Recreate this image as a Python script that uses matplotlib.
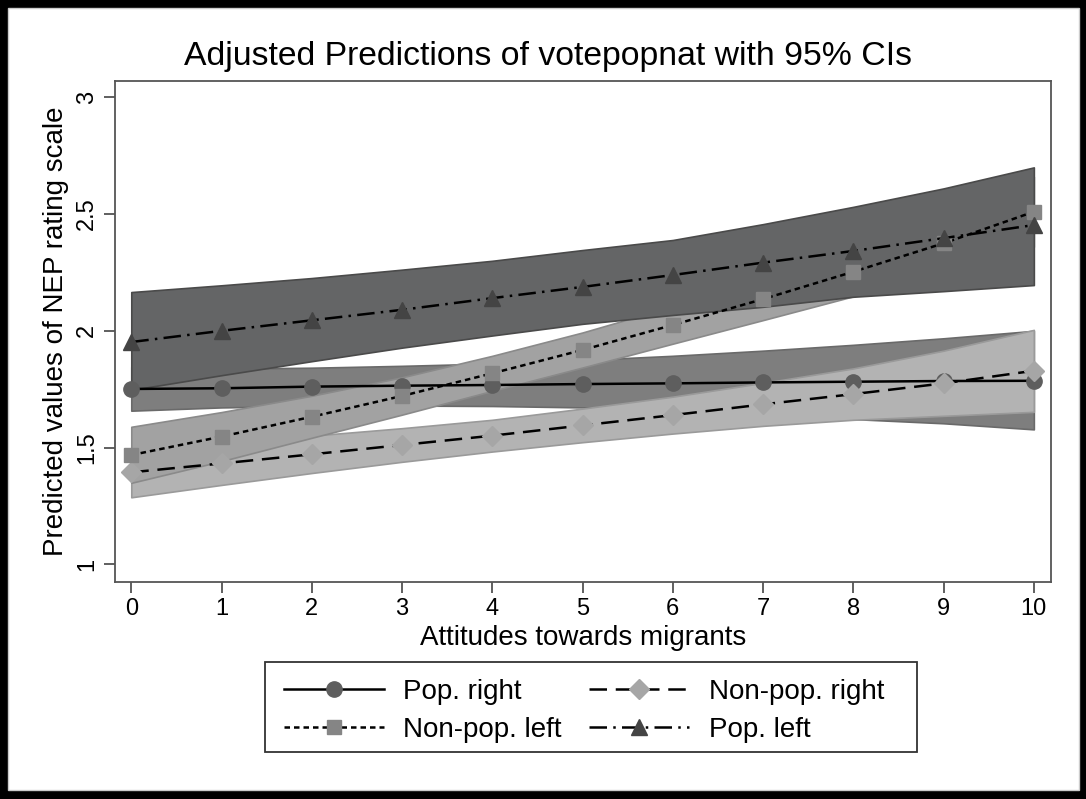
import matplotlib
matplotlib.use("Agg")
import matplotlib.pyplot as plt
from matplotlib.patches import Rectangle
import numpy as np

plt.rcParams['font.family'] = ['Liberation Sans', 'DejaVu Sans']

x = list(range(11))
xticks = list(range(11))
yticks = [1, 1.5, 2, 2.5, 3]
ytick_labels = ["1", "1.5", "2", "2.5", "3"]

# Pop. right
pop_right = [1.751, 1.754, 1.761, 1.765, 1.768, 1.772, 1.775, 1.779, 1.782, 1.785, 1.786]
pop_right_lo = [1.658, 1.672, 1.678, 1.680, 1.678, 1.672, 1.663, 1.648, 1.622, 1.604, 1.578]
pop_right_hi = [1.845, 1.838, 1.842, 1.850, 1.860, 1.875, 1.893, 1.915, 1.940, 1.968, 2.000]
# Non-pop. right
nonpop_right = [1.394, 1.432, 1.471, 1.511, 1.551, 1.595, 1.639, 1.685, 1.729, 1.775, 1.829]
nonpop_right_lo = [1.287, 1.340, 1.391, 1.439, 1.483, 1.523, 1.560, 1.593, 1.619, 1.636, 1.653]
nonpop_right_hi = [1.501, 1.524, 1.551, 1.583, 1.619, 1.667, 1.718, 1.777, 1.839, 1.915, 2.004]
# Non-pop. left
nonpop_left = [1.468, 1.547, 1.632, 1.721, 1.818, 1.918, 2.025, 2.136, 2.253, 2.375, 2.510]
nonpop_left_lo = [1.349, 1.442, 1.542, 1.641, 1.743, 1.843, 1.945, 2.046, 2.148, 2.250, 2.360]
nonpop_left_hi = [1.589, 1.652, 1.722, 1.801, 1.893, 1.993, 2.105, 2.226, 2.358, 2.500, 2.660]
# Pop. left
pop_left = [1.952, 2.000, 2.045, 2.090, 2.140, 2.188, 2.239, 2.292, 2.342, 2.397, 2.453]
pop_left_lo = [1.747, 1.810, 1.870, 1.928, 1.980, 2.030, 2.068, 2.103, 2.146, 2.170, 2.196]
pop_left_hi = [2.166, 2.195, 2.226, 2.262, 2.300, 2.346, 2.389, 2.457, 2.531, 2.610, 2.700]

series = [
    ("Pop. right", pop_right, pop_right_lo, pop_right_hi),
    ("Non-pop. right", nonpop_right, nonpop_right_lo, nonpop_right_hi),
    ("Non-pop. left", nonpop_left, nonpop_left_lo, nonpop_left_hi),
    ("Pop. left", pop_left, pop_left_lo, pop_left_hi),
]

band_face = ["#7e7e7e", "#b3b3b3", "#a2a2a2", "#646566"]
band_edge = ["#6a6a6a", "#9a9a9a", "#8a8a8a", "#4a4a4a"]
mark_col = ["#5e5e5e", "#a6a6a6", "#858585", "#444444"]
markers = ["o", "D", "s", "^"]
msizes = [11, 10, 10, 11]
dashes = [None, (7, 3.5), (2.2, 1.6), (7, 2.5, 1, 2.5)]

W, H = 1086, 799
fig = plt.figure(figsize=(W / 100, H / 100), dpi=100)
fig.patch.set_facecolor("black")
bg = Rectangle((8 / W, 1 - 790 / H), (1079 - 8) / W, (790 - 8) / H,
               transform=fig.transFigure, facecolor="white",
               edgecolor="#cccccc", linewidth=1, zorder=-10)
fig.patches.append(bg)

ax = fig.add_axes([114.5 / W, 1 - 581.7 / H, (1051 - 114.5) / W, (581.7 - 81) / H])
ax.set_zorder(1)
ax.set_facecolor("white")

for i, (name, c, lo, hi) in enumerate(series):
    ax.fill_between(x, lo, hi, facecolor=band_face[i], edgecolor=band_edge[i],
                    linewidth=1.2, zorder=1 + i)

handles = []
for i, (name, c, lo, hi) in enumerate(series):
    ln, = ax.plot(x, c, color="black", linewidth=1.8, marker=markers[i],
                  markersize=msizes[i], markerfacecolor=mark_col[i],
                  markeredgecolor=mark_col[i], zorder=10 + i, label=name)
    if dashes[i] is not None:
        ln.set_dashes(dashes[i])
    handles.append(ln)

ax.set_xlim(-0.186, 10.19)
ax.set_ylim(0.9255, 3.07)
ax.set_xticks(xticks)
ax.set_yticks(yticks)
ax.set_yticklabels(ytick_labels, rotation=90, va="center")
ax.tick_params(axis="both", direction="out", length=8, width=1.2, color="#444444",
               labelsize=17, pad=4)
for s in ax.spines.values():
    s.set_color("#555555")
    s.set_linewidth(1.3)

ax.set_xlabel("Attitudes towards migrants", fontsize=20, labelpad=3)
ax.set_ylabel("Predicted values of NEP rating scale", fontsize=20, labelpad=5)
fig.text(0.5045, 1 - 57 / H, "Adjusted Predictions of votepopnat with 95% CIs",
         ha="center", va="center", fontsize=24.3)

# legend frame
fig.patches.append(Rectangle((265 / W, 1 - 752 / H), (917 - 265) / W, (752 - 662) / H,
                             transform=fig.transFigure, facecolor="white",
                             edgecolor="#333333", linewidth=1.3, zorder=2))
order = [0, 2, 1, 3]
leg = fig.legend([handles[k] for k in order], [series[k][0] for k in order],
                 ncol=2, loc="center", bbox_to_anchor=(584 / W, 1 - 711 / H),
                 frameon=False, fontsize=20, handlelength=3.6,
                 columnspacing=1.0, handletextpad=0.7, borderpad=0.2,
                 labelspacing=0.42)
leg.set_zorder(3)

fig.savefig("out.png", dpi=100, facecolor=fig.get_facecolor())
